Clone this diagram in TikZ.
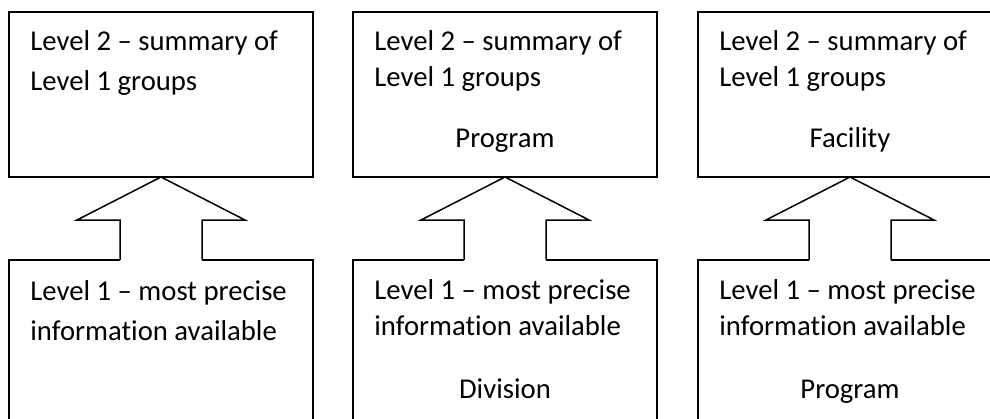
\documentclass[tikz,border=0pt]{standalone}
\usepackage{fontspec}
\setmainfont{Carlito}[Ligatures={NoCommon}]
\usetikzlibrary{calc}
\begin{document}
\begin{tikzpicture}[x=0.5pt,y=-0.5pt,
  topbox/.style={draw, line width=0.9pt, minimum width=152pt, minimum height=82.5pt, inner sep=0pt, outer sep=0pt},
  lowbox/.style={draw, line width=0.9pt, minimum width=152pt, minimum height=105pt, inner sep=0pt, outer sep=0pt},
  txt/.style={anchor=base west, inner sep=0pt, font=\fontsize{14.35pt}{17pt}\selectfont},
  ctxt/.style={anchor=base, inner sep=0pt, font=\fontsize{14.35pt}{17pt}\selectfont},
  arrowline/.style={draw, line width=0.75pt, line join=miter}]
\useasboundingbox (0,0) rectangle (990,418);
\clip (0,0) rectangle (990,418);

% boxes
\node[topbox] (t1) at (161,94.5) {};
\node[topbox] (t2) at (505,94.5) {};
\node[topbox] (t3) at (850,94.5) {};
\node[lowbox] (b1) at (161,365) {};
\node[lowbox] (b2) at (505,365) {};
\node[lowbox] (b3) at (850,365) {};

% block arrows
\foreach \t/\b in {t1/b1,t2/b2,t3/b3}{
  \fill[white] ($(\b.north)+(-41,1.5)$) rectangle ($(\b.north)+(41,-40)$);
  \fill[white] ($(\b.north)+(-84,-40)$) -- (\t.south) -- ($(\b.north)+(84,-40)$) -- cycle;
  \draw[arrowline] ($(\b.north)+(-41,0)$) -- ($(\b.north)+(-41,-40)$) -- ($(\b.north)+(-84,-40)$)
     -- (\t.south) -- ($(\b.north)+(84,-40)$) -- ($(\b.north)+(41,-40)$) -- ($(\b.north)+(41,0)$);
}

% panel 1 texts
\node[txt] (t1a) at (30,50) {Level 2 – summary of};
\node[txt] (t1b) at (30,90) {Level 1 groups};
\node[txt] (b1a) at (30,300) {Level 1 – most precise};
\node[txt] (b1b) at (30,340) {information available};

% panel 2 texts
\node[txt] (t2a) at (374,50) {Level 2 – summary of};
\node[txt] (t2b) at (374,86) {Level 1 groups};
\node[ctxt] (t2c) at (505,147) {Program};
\node[txt] (b2a) at (374,299) {Level 1 – most precise};
\node[txt] (b2b) at (374,335) {information available};
\node[ctxt] (b2c) at (505,398) {Division};

% panel 3 texts
\node[txt] (t3a) at (719,50) {Level 2 – summary of};
\node[txt] (t3b) at (719,86) {Level 1 groups};
\node[ctxt] (t3c) at (850,147) {Facility};
\node[txt] (b3a) at (719,299) {Level 1 – most precise};
\node[txt] (b3b) at (719,335) {information available};
\node[ctxt] (b3c) at (850,398) {Program};
\end{tikzpicture}
\end{document}
